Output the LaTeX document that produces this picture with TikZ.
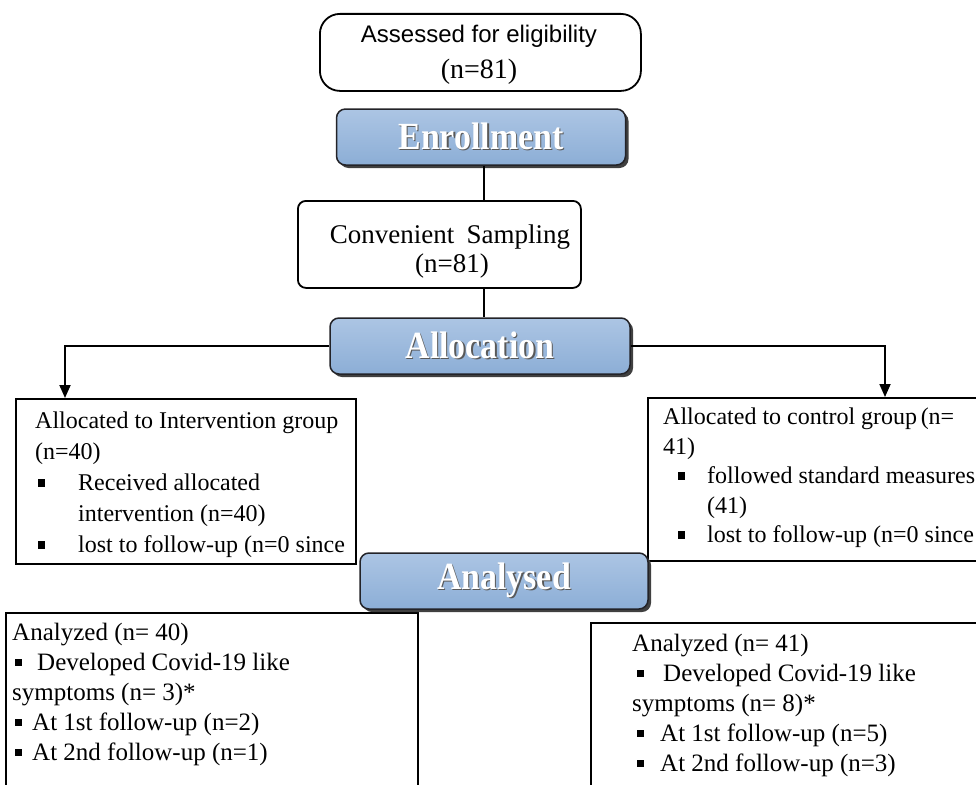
\documentclass[tikz,border=0pt]{standalone}
\usepackage{fontspec}
\setmainfont{Liberation Serif}
\newfontfamily\arialfont{Liberation Sans}
\usetikzlibrary{arrows.meta,shadows}

\definecolor{hdrtop}{RGB}{172,197,228}
\definecolor{hdrbot}{RGB}{140,174,214}
\definecolor{hdrline}{RGB}{35,35,40}

% small square bullet: #1 = indent of the square, #2 = where the text starts
\newcommand{\bul}[2]{\makebox[#2][l]{\hspace{#1}\rule[0.18em]{0.28em}{0.3em}}}
% white heading with a dark rim
\newcommand{\hdrlabel}[1]{\scalebox{1.06}[1.2]{\makebox[0pt][l]{\hspace{1.3pt}\raisebox{-1.3pt}{\color{black!65}#1}}#1}}

\tikzset{
  plainbox/.style={draw, line width=1.8pt, anchor=north west, inner sep=0pt},
  roundbox/.style={plainbox, rounded corners=#1},
  hdrbox/.style={draw=hdrline, line width=1.5pt, rounded corners=9pt,
    top color=hdrtop, bottom color=hdrbot,
    drop shadow={shadow xshift=3pt, shadow yshift=-3pt, fill=black!75, opacity=1},
    minimum width=#1, minimum height=56pt, inner sep=0pt, text=white,
    font=\bfseries\fontsize{32}{32}\selectfont},
  boxtext/.style={anchor=north west, align=left, inner sep=0pt},
  link/.style={line width=1.8pt},
  arr/.style={link, -{Triangle[length=13pt,width=11pt]}}
}

\begin{document}
\begin{tikzpicture}[x=1pt, y=-1pt]
  \useasboundingbox (0,0) rectangle (976,784);
  \clip (0,0) rectangle (976,784);

  % enrollment
  \node[roundbox=20pt, minimum width=321pt, minimum height=77pt] (assess) at (319,13) {};
  \node[anchor=base, inner sep=0pt, font=\arialfont\fontsize{24}{24}\selectfont] (assess-t) at (479,42) {Assessed for eligibility};
  \node[anchor=base, inner sep=0pt, font=\fontsize{28}{28}\selectfont] (assess-n) at (479,78) {(n=81)};

  \node[hdrbox=289pt] (enroll) at (481,137) {\hdrlabel{Enrollment}};

  \node[roundbox=8pt, minimum width=283pt, minimum height=87pt] (conv) at (297,200) {};
  \node[anchor=base, inner sep=0pt, font=\fontsize{27}{27}\selectfont] (conv-t) at (450,243) {Convenient\hspace{0.45em}Sampling};
  \node[anchor=base, inner sep=0pt, font=\fontsize{27}{27}\selectfont] (conv-n) at (452,272) {(n=81)};

  \draw[link] (enroll.south -| 484,0) -- (conv.north -| 484,0);

  % allocation
  \node[hdrbox=300pt] (alloc) at (480,346) {\hdrlabel{Allocation}};
  \draw[link] (conv.south -| 484,0) -- (alloc.north -| 484,0);

  \node[plainbox, minimum width=340pt, minimum height=165pt] (intbox) at (15,398) {};
  \node[boxtext, font=\fontsize{24}{31}\selectfont] (int-t) at (35,412) {Allocated to Intervention group\\
    (n=40)\\
    \bul{3pt}{43pt}Received allocated\\
    \hspace*{43pt}intervention (n=40)\\
    \bul{3pt}{43pt}lost to follow-up (n=0 since};

  \node[plainbox, minimum width=360pt, minimum height=163pt] (ctlbox) at (647,397) {};
  \node[boxtext, font=\fontsize{24}{29.5}\selectfont] (ctl-t) at (663,408) {Allocated to control group\hspace{0.15em}(n=\\
    41)\\
    \bul{15pt}{44pt}followed standard measures\\
    \hspace*{44pt}(41)\\
    \bul{15pt}{44pt}lost to follow-up (n=0 since};

  \coordinate (ltip) at ([xshift=50pt]intbox.north west);
  \coordinate (rtip) at ([xshift=238pt]ctlbox.north west);
  \draw[arr] (alloc.west) -| (ltip);
  \draw[arr] (alloc.east) -| (rtip);

  % analysis
  \node[plainbox, minimum width=412pt, minimum height=200pt] (intres) at (5,612) {};
  \node[boxtext, font=\fontsize{25}{30}\selectfont] (intres-t) at (12,623) {Analyzed (n= 40)\\
    \bul{3pt}{25pt}Developed Covid-19 like\\
    symptoms (n= 3)*\\
    \bul{3pt}{20pt}At 1st follow-up (n=2)\\
    \bul{3pt}{20pt}At 2nd follow-up (n=1)};

  \node[plainbox, minimum width=420pt, minimum height=200pt] (ctlres) at (590,622) {};
  \node[boxtext, font=\fontsize{25}{30}\selectfont] (ctlres-t) at (632,634) {Analyzed (n= 41)\\
    \bul{5pt}{31pt}Developed Covid-19 like\\
    symptoms (n= 8)*\\
    \bul{5pt}{28pt}At 1st follow-up (n=5)\\
    \bul{5pt}{28pt}At 2nd follow-up (n=3)};

  \node[hdrbox=288pt] (anal) at (504,581) {\hdrlabel{Analysed}};
\end{tikzpicture}
\end{document}
